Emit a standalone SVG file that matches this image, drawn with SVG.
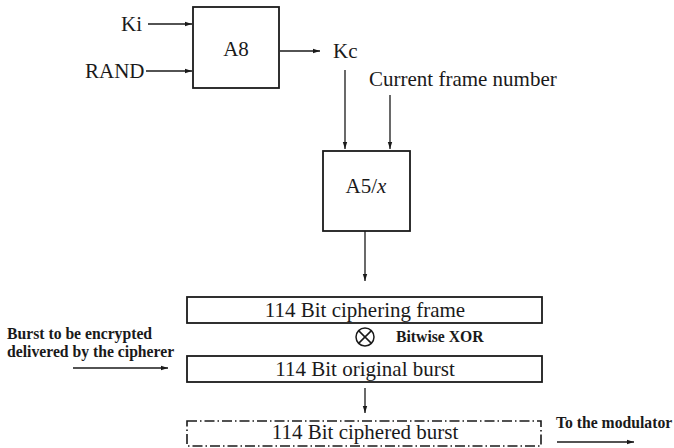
<svg xmlns="http://www.w3.org/2000/svg" width="674" height="448" viewBox="0 0 674 448">
<defs>
<marker id="ah" markerWidth="8" markerHeight="6" refX="7" refY="3" orient="auto" markerUnits="userSpaceOnUse">
<path d="M0,0.8 L7,3 L0,5.2 Z" fill="#1a1a1a"/>
</marker>
</defs>
<style>
.box{fill:#fff;stroke:#1a1a1a;stroke-width:1.8}
.dash{fill:none;stroke:#1a1a1a;stroke-width:1.6;stroke-dasharray:10 3 1.5 3}
.ln{fill:none;stroke:#1a1a1a;stroke-width:1.3;marker-end:url(#ah)}
.t{font-family:"Liberation Serif","Times New Roman",serif;fill:#1a1a1a;font-size:21px}
.b{font-family:"Liberation Serif","Times New Roman",serif;font-weight:bold;font-size:15.7px;fill:#1a1a1a}
</style>
<rect width="674" height="448" fill="#fff"/>
<g id="connectors">
<line class="ln" x1="148" y1="24" x2="192" y2="24"/>
<line class="ln" x1="146" y1="71" x2="192" y2="71"/>
<line class="ln" x1="280" y1="51" x2="320" y2="51"/>
<line class="ln" x1="345" y1="70" x2="345" y2="149"/>
<line class="ln" x1="390" y1="95" x2="390" y2="149"/>
<line class="ln" x1="365" y1="231" x2="365" y2="281"/>
<line class="ln" x1="73" y1="368" x2="168" y2="368"/>
<line class="ln" x1="365" y1="388" x2="365" y2="413"/>
<line class="ln" x1="557" y1="442" x2="634" y2="442"/>
</g>
<g id="ki"><text class="t" x="121" y="31">Ki</text></g>
<g id="rand"><text class="t" x="85" y="78">RAND</text></g>
<g id="a8"><rect class="box" x="193" y="7" width="86" height="81"/><text class="t" x="236" y="56" text-anchor="middle">A8</text></g>
<g id="kc"><text class="t" x="333" y="58">Kc</text></g>
<g id="frame-number"><text class="t" x="369" y="86">Current frame number</text></g>
<g id="a5x"><rect class="box" x="323" y="151" width="87" height="80"/><text class="t" x="366" y="193" text-anchor="middle">A5/<tspan font-style="italic">x</tspan></text></g>
<g id="ciphering-frame"><rect class="box" x="187" y="297" width="355" height="26"/><text class="t" x="365" y="317" text-anchor="middle">114 Bit ciphering frame</text></g>
<g id="xor"><circle cx="365" cy="337" r="9" fill="none" stroke="#1a1a1a" stroke-width="1.5"/><line x1="358.6" y1="330.6" x2="371.4" y2="343.4" stroke="#1a1a1a" stroke-width="1.5"/><line x1="371.4" y1="330.6" x2="358.6" y2="343.4" stroke="#1a1a1a" stroke-width="1.5"/><text class="b" x="396" y="342">Bitwise XOR</text></g>
<g id="burst-input"><text class="b" x="7" y="339">Burst to be encrypted</text><text class="b" x="7" y="357">delivered by the cipherer</text></g>
<g id="original-burst"><rect class="box" x="187" y="356" width="355" height="26"/><text class="t" x="365" y="376" text-anchor="middle">114 Bit original burst</text></g>
<g id="ciphered-burst"><rect class="dash" x="187" y="421" width="354" height="25"/><text class="t" x="365" y="439" text-anchor="middle">114 Bit ciphered burst</text></g>
<g id="modulator"><text class="b" x="556" y="428">To the modulator</text></g>
</svg>
